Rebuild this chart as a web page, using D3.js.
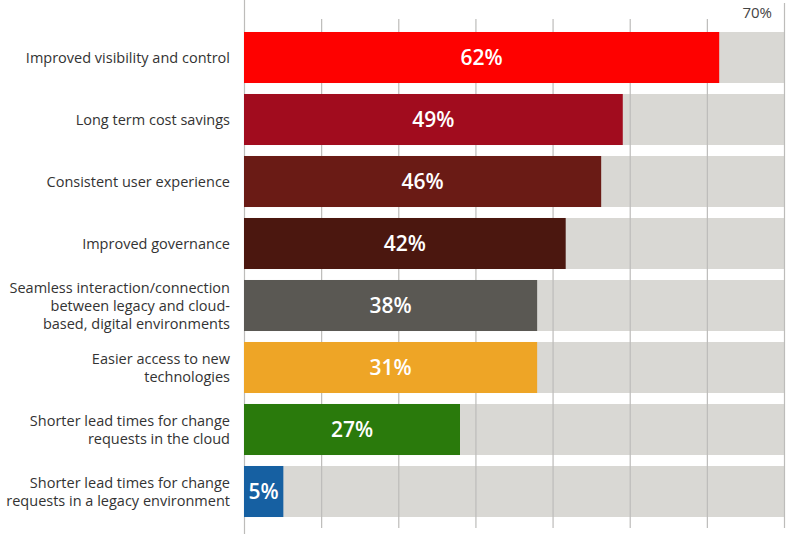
<!DOCTYPE html>
<html>
<head>
<meta charset="utf-8">
<script src="https://cdn.jsdelivr.net/npm/d3@7"></script>
<style>
  body { margin: 0; background: #fff; }
  svg { display: block; }
</style>
</head>
<body>
<svg width="800" height="534"></svg>
<script>
// Chart data, top to bottom
var categories = [
    'Improved visibility and control',
    'Long term cost savings',
    'Consistent user experience',
    'Improved governance',
    'Seamless interaction/connection\nbetween legacy and cloud-\nbased, digital environments',
    'Easier access to new\ntechnologies',
    'Shorter lead times for change\nrequests in the cloud',
    'Shorter lead times for change\nrequests in a legacy environment'
];
// printed percentages
var values = [62, 49, 46, 42, 38, 31, 27, 5];
// bar lengths as drawn in the picture (the 31% bar is drawn as long as the 38% one)
var barLengths = [61.6, 49.1, 46.3, 41.7, 38, 38, 28, 5.1];
var colors = ['#fe0100', '#a10c1e', '#6a1b15', '#4b170f', '#5a5853', '#eea526', '#2a7a0c', '#1660a2'];
var maxValue = 70;
var gridTicks = [0, 10, 20, 30, 40, 50, 60, 70];

var svg = d3.select('svg');
var svgWidth = +svg.attr('width');
var svgHeight = +svg.attr('height');

var fontFamily = '"Open Sans", "Noto Sans", sans-serif';

var xScale = d3.scaleLinear()
    .domain([0, maxValue])
    .range([244, 784]);

var yScale = d3.scaleBand()
    .domain(d3.range(categories.length))
    .range([26.5, 522.5])
    .paddingInner(0.177)
    .paddingOuter(0.0885);

var data = categories.map(function(c, i) {
    return {label: c, value: values[i], length: barLengths[i], color: colors[i]};
});

// grey background bars
svg.append('g')
    .selectAll('rect')
    .data(data)
    .enter()
    .append('rect')
    .attr('x', xScale(0))
    .attr('y', function(d, i) { return yScale(i); })
    .attr('width', xScale(maxValue) - xScale(0))
    .attr('height', yScale.bandwidth())
    .attr('fill', '#d9d8d4');

// vertical grid lines
svg.append('g')
    .selectAll('line')
    .data(gridTicks)
    .enter()
    .append('line')
    .attr('x1', function(d) { return xScale(d) + 0.5; })
    .attr('x2', function(d) { return xScale(d) + 0.5; })
    .attr('y1', function(d) { return d === 0 ? 0 : (d === maxValue ? 3 : 19); })
    .attr('y2', function(d) { return d === 0 ? svgHeight : 528; })
    .attr('stroke', '#bdbcba')
    .attr('stroke-width', 1.2);

// coloured bars
svg.append('g')
    .selectAll('rect')
    .data(data)
    .enter()
    .append('rect')
    .attr('x', xScale(0))
    .attr('y', function(d, i) { return yScale(i); })
    .attr('width', function(d) { return xScale(d.length) - xScale(0); })
    .attr('height', yScale.bandwidth())
    .attr('fill', function(d) { return d.color; });

// percentage labels inside bars
svg.append('g')
    .selectAll('text')
    .data(data)
    .enter()
    .append('text')
    .attr('x', function(d) { return (xScale(0) + xScale(d.length)) / 2; })
    .attr('y', function(d, i) { return yScale(i) + yScale.bandwidth() / 2; })
    .attr('dy', '0.36em')
    .attr('text-anchor', 'middle')
    .attr('font-family', fontFamily)
    .attr('font-size', 21)
    .attr('font-weight', 600)
    .style('font-stretch', '92%')
    .attr('fill', '#ffffff')
    .text(function(d) { return d.value + '%'; });

// category labels (right aligned, multi line)
var lineHeight = 18;
var labels = svg.append('g')
    .selectAll('text')
    .data(data)
    .enter()
    .append('text')
    .attr('text-anchor', 'end')
    .attr('font-family', fontFamily)
    .attr('font-size', 14.5)
    .attr('fill', '#333333');

labels.each(function(d, i) {
    var lines = d.label.split('\n');
    var cy = yScale(i) + yScale.bandwidth() / 2;
    var firstY = cy - (lines.length - 1) * lineHeight / 2;
    d3.select(this).selectAll('tspan')
        .data(lines)
        .enter()
        .append('tspan')
        .attr('x', 230)
        .attr('y', function(l, k) { return firstY + k * lineHeight; })
        .attr('dy', '0.35em')
        .text(function(l) { return l; });
});

// top tick label
svg.append('text')
    .attr('x', xScale(maxValue) - 12)
    .attr('y', 18)
    .attr('text-anchor', 'end')
    .attr('font-family', fontFamily)
    .attr('font-size', 15)
    .attr('fill', '#444444')
    .text(maxValue + '%');
</script>
</body>
</html>
